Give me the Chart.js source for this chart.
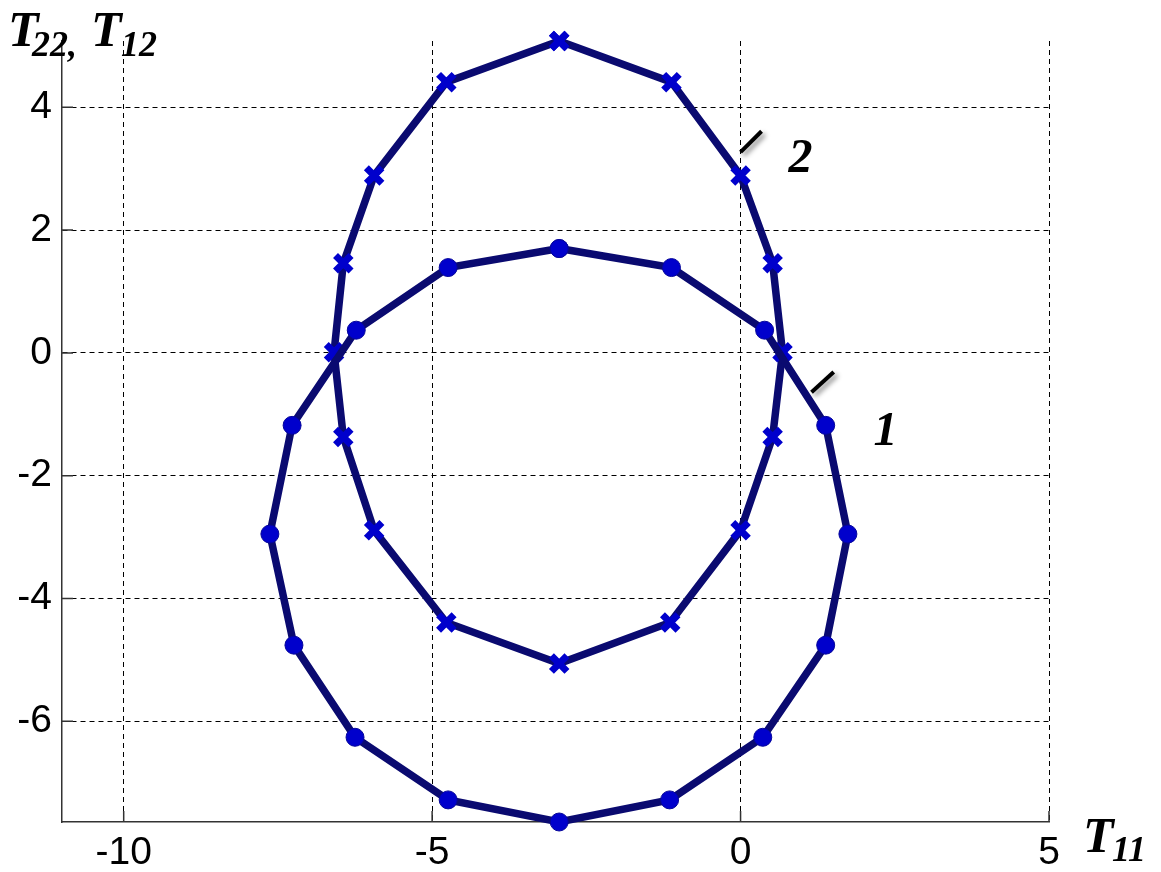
<!DOCTYPE html>
<html>
<head>
<meta charset="utf-8">
<script src="https://cdn.jsdelivr.net/npm/chart.js@4.4.1/dist/chart.umd.min.js"></script>
<style>
  html, body { margin: 0; padding: 0; background: #fff; }
  #wrap { width: 1161px; height: 872px; position: relative; }
</style>
</head>
<body>
<div id="wrap"><canvas id="chart" width="1161" height="872"></canvas></div>
<script>
// curve 1 (circles)
const curve1X = [-2.94, -1.12, 0.39, 1.38, 1.74, 1.38, 0.36, -1.15, -2.94, -4.74, -6.25, -7.24, -7.63, -7.27, -6.23, -4.74, -2.94];
const curve1Y = [1.70, 1.39, 0.37, -1.18, -2.95, -4.76, -6.26, -7.28, -7.64, -7.28, -6.26, -4.76, -2.95, -1.18, 0.37, 1.39, 1.70];
// curve 2 (crosses)
const curve2X = [-2.94, -1.12, 0.0, 0.52, 0.68, 0.52, 0.0, -1.14, -2.94, -4.77, -5.94, -6.44, -6.59, -6.44, -5.94, -4.77, -2.94];
const curve2Y = [5.08, 4.41, 2.89, 1.46, 0.01, -1.37, -2.89, -4.39, -5.06, -4.39, -2.89, -1.37, 0.01, 1.46, 2.89, 4.41, 5.08];

const xTicks = [-10, -5, 0, 5];
const yTicks = [-6, -4, -2, 0, 2, 4];

// curve labels: [text, x, y] and leader lines [x1, y1, x2, y2]
const curveLabels = [['1', 2.35, -1.3], ['2', 0.97, 3.15]];
const leaderLines = [[1.15, -0.64, 1.51, -0.31], [0.0, 3.27, 0.34, 3.61]];

const pts = (xs, ys) => xs.map((x, i) => ({ x: x, y: ys[i] }));

const lineColor = '#0a0a70';
const markColor = '#0000cc';

const extras = {
  id: 'extras',
  afterDraw(chart) {
    const ctx = chart.ctx;
    const xs = chart.scales.x, ys = chart.scales.y;
    const area = chart.chartArea;
    ctx.save();
    // inward tick marks
    ctx.strokeStyle = '#333';
    ctx.lineWidth = 1.5;
    ctx.beginPath();
    yTicks.forEach(v => {
      const py = ys.getPixelForValue(v);
      ctx.moveTo(area.left, py); ctx.lineTo(area.left + 11, py);
    });
    xTicks.forEach(v => {
      const px = xs.getPixelForValue(v);
      ctx.moveTo(px, area.bottom); ctx.lineTo(px, area.bottom - 11);
    });
    ctx.stroke();

    // leader lines with soft shadow
    ctx.save();
    ctx.strokeStyle = '#000';
    ctx.lineWidth = 4;
    ctx.shadowColor = 'rgba(0,0,0,0.45)';
    ctx.shadowBlur = 5;
    ctx.shadowOffsetX = 3;
    ctx.shadowOffsetY = 3;
    leaderLines.forEach(l => {
      ctx.beginPath();
      ctx.moveTo(xs.getPixelForValue(l[0]), ys.getPixelForValue(l[1]));
      ctx.lineTo(xs.getPixelForValue(l[2]), ys.getPixelForValue(l[3]));
      ctx.stroke();
    });
    ctx.restore();

    // curve numbers
    ctx.fillStyle = '#000';
    ctx.font = 'bold italic 48px "Liberation Serif"';
    ctx.textAlign = 'center';
    ctx.textBaseline = 'middle';
    curveLabels.forEach(c => {
      ctx.fillText(c[0], xs.getPixelForValue(c[1]), ys.getPixelForValue(c[2]));
    });

    // axis titles
    ctx.textAlign = 'left';
    ctx.textBaseline = 'alphabetic';
    const big = 'bold italic 50px "Liberation Serif"';
    const small = 'bold italic 36px "Liberation Serif"';
    ctx.font = big; ctx.fillText('T', 8, 46);
    ctx.font = small; ctx.fillText('22,', 32, 56);
    ctx.font = big; ctx.fillText('T', 91, 46);
    ctx.font = small; ctx.fillText('12', 121, 56);

    ctx.font = big; ctx.fillText('T', 1083, 852);
    ctx.font = small; ctx.fillText('11', 1112, 861);
    ctx.restore();
  }
};

new Chart(document.getElementById('chart').getContext('2d'), {
  type: 'scatter',
  data: {
    datasets: [{
      data: pts(curve1X, curve1Y),
      showLine: true,
      borderColor: lineColor,
      borderWidth: 7.5,
      pointStyle: 'circle',
      pointRadius: 9,
      pointBackgroundColor: markColor,
      pointBorderColor: '#06069a',
      pointBorderWidth: 1,
      clip: false
    }, {
      data: pts(curve2X, curve2Y),
      showLine: true,
      borderColor: lineColor,
      borderWidth: 7.5,
      pointStyle: 'crossRot',
      pointRadius: 11,
      pointBorderColor: markColor,
      pointBorderWidth: 7,
      clip: false
    }]
  },
  options: {
    responsive: false,
    animation: false,
    layout: { padding: { top: 41, right: 112, bottom: 0, left: 0 } },
    plugins: { legend: { display: false }, tooltip: { enabled: false } },
    scales: {
      x: {
        type: 'linear',
        min: -11,
        max: 5,
        afterBuildTicks(scale) { scale.ticks = xTicks.map(v => ({ value: v })); },
        afterFit(scale) { scale.height = 50; },
        grid: { color: '#000', lineWidth: 1, drawTicks: false },
        border: { display: true, color: '#333', width: 1.5, dash: [5, 4] },
        ticks: { color: '#000', padding: 8, font: { family: '"Liberation Sans"', size: 39 } }
      },
      y: {
        type: 'linear',
        min: -7.64,
        max: 5.08,
        afterBuildTicks(scale) { scale.ticks = yTicks.map(v => ({ value: v })); },
        afterFit(scale) { scale.width = 62; },
        grid: { color: '#000', lineWidth: 1, drawTicks: false },
        border: { display: true, color: '#333', width: 1.5, dash: [5, 4] },
        ticks: { color: '#000', padding: 10, font: { family: '"Liberation Sans"', size: 39 } }
      }
    }
  },
  plugins: [extras]
});
</script>
</body>
</html>
